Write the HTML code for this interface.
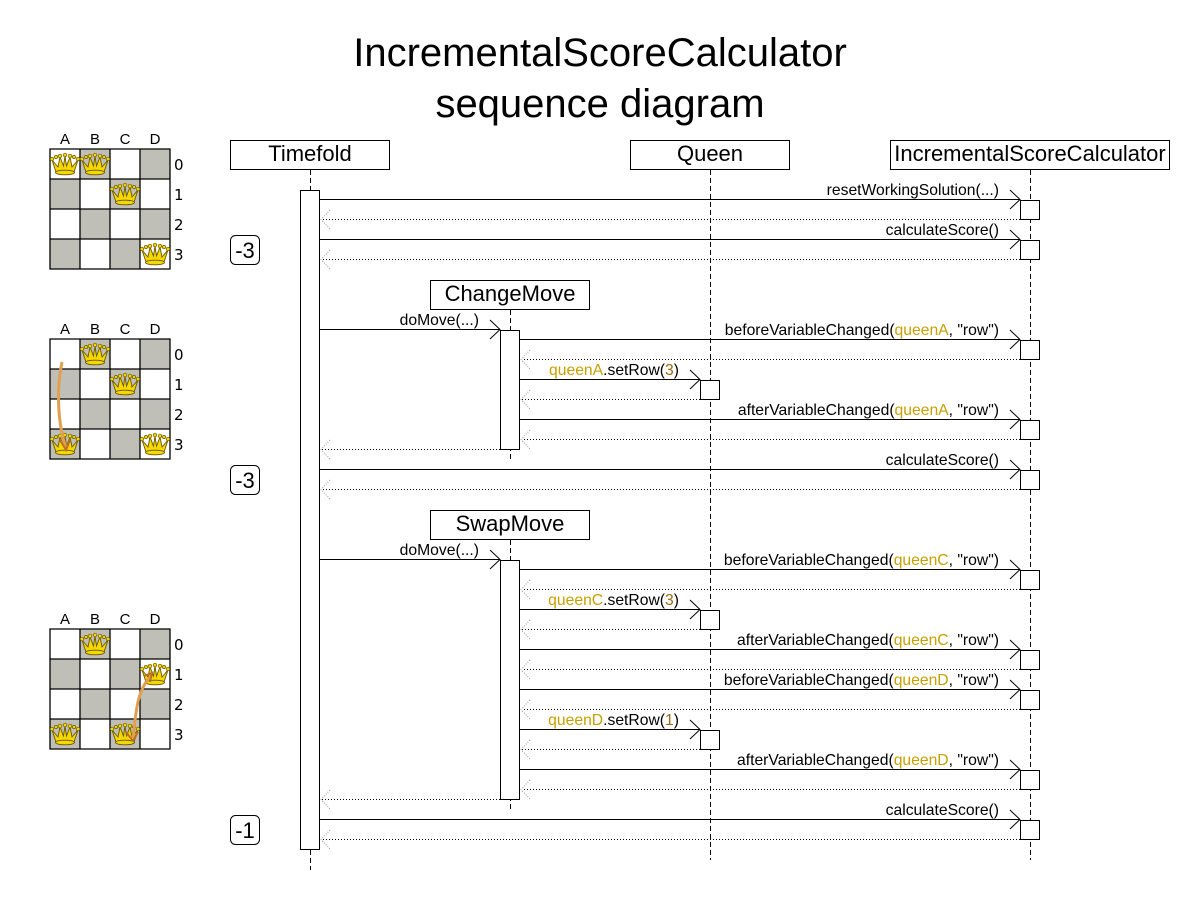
<!DOCTYPE html>
<html><head><meta charset="utf-8"><style>
html,body{margin:0;padding:0;background:#fff;width:1200px;height:900px;overflow:hidden}
svg{display:block;font-family:"Liberation Sans",sans-serif}
.t{font-size:15.7px;text-anchor:end;fill:#000}
.g{fill:#c8a000}
.b{fill:#9a6a10}
</style></head><body>
<svg width="1200" height="900" viewBox="0 0 1200 900" xmlns="http://www.w3.org/2000/svg">
<defs>
<symbol id="q" viewBox="0 0 30 30">
<path d="M2 11 L6 23 L24 23 L28 11 L22 18 L20 8 L16.5 17 L15 7 L13.5 17 L10 8 L8 18 Z" fill="#f5d800" stroke="#6a5600" stroke-width="0.9"/>
<ellipse cx="15" cy="23.5" rx="9.5" ry="2.3" fill="#f5d800" stroke="#6a5600" stroke-width="0.9"/>
<g fill="#f5d800" stroke="#6a5600" stroke-width="0.7">
<circle cx="2" cy="10" r="1.8"/><circle cx="10" cy="7" r="1.8"/><circle cx="15" cy="6" r="1.8"/>
<circle cx="20" cy="7" r="1.8"/><circle cx="28" cy="10" r="1.8"/><circle cx="6" cy="8" r="1.6"/><circle cx="24" cy="8" r="1.6"/>
</g>
</symbol>
<g id="board">
<rect x="0" y="0" width="120" height="120" fill="#fff"/>
<rect x="30" y="0" width="30" height="30" fill="#bfbfb8"/><rect x="90" y="0" width="30" height="30" fill="#bfbfb8"/>
<rect x="0" y="30" width="30" height="30" fill="#bfbfb8"/><rect x="60" y="30" width="30" height="30" fill="#bfbfb8"/>
<rect x="30" y="60" width="30" height="30" fill="#bfbfb8"/><rect x="90" y="60" width="30" height="30" fill="#bfbfb8"/>
<rect x="0" y="90" width="30" height="30" fill="#bfbfb8"/><rect x="60" y="90" width="30" height="30" fill="#bfbfb8"/>
<path d="M0 0H120V120H0Z M30 0V120 M60 0V120 M90 0V120 M0 30H120 M0 60H120 M0 90H120" fill="none" stroke="#000" stroke-width="1.3"/>
<g font-size="15" text-anchor="middle"><text x="15" y="-5">A</text><text x="45" y="-5">B</text><text x="75" y="-5">C</text><text x="105" y="-5">D</text></g>
<g font-size="15" font-family="DejaVu Sans, sans-serif"><text x="124" y="21">0</text><text x="124" y="51">1</text><text x="124" y="81">2</text><text x="124" y="111">3</text></g>
</g>
</defs>

<text x="600" y="66" font-size="40" text-anchor="middle">IncrementalScoreCalculator</text>
<text x="600" y="117" font-size="40" text-anchor="middle">sequence diagram</text>

<use href="#board" x="50" y="149"/>
<use href="#q" x="50" y="149" width="30" height="30"/><use href="#q" x="80" y="149" width="30" height="30"/>
<use href="#q" x="110" y="179" width="30" height="30"/><use href="#q" x="140" y="239" width="30" height="30"/>

<use href="#board" x="50" y="339"/>
<use href="#q" x="80" y="339" width="30" height="30"/><use href="#q" x="110" y="369" width="30" height="30"/>
<use href="#q" x="50" y="429" width="30" height="30"/><use href="#q" x="140" y="429" width="30" height="30"/>
<path d="M62 362 C56 390 58 425 66 448" fill="none" stroke="#e0a050" stroke-width="3"/>
<path d="M60 440 L66 450 L70 440" fill="none" stroke="#c07020" stroke-width="2"/>

<use href="#board" x="50" y="629"/>
<use href="#q" x="80" y="629" width="30" height="30"/><use href="#q" x="140" y="659" width="30" height="30"/>
<use href="#q" x="50" y="719" width="30" height="30"/><use href="#q" x="110" y="719" width="30" height="30"/>
<path d="M133 738 C136 715 136 690 152 675" fill="none" stroke="#e0a050" stroke-width="3"/>
<path d="M144 676 L152 673 L150 682" fill="none" stroke="#c07020" stroke-width="2"/>
<path d="M126 732 L133 741 L138 732" fill="none" stroke="#c07020" stroke-width="2"/>

<g stroke="#000" stroke-dasharray="5,3" stroke-width="1">
<line x1="310.5" y1="170" x2="310.5" y2="870"/>
<line x1="710.5" y1="170" x2="710.5" y2="860"/>
<line x1="1030.5" y1="170" x2="1030.5" y2="860"/>
<line x1="510.5" y1="310" x2="510.5" y2="460"/>
<line x1="510.5" y1="540" x2="510.5" y2="810"/>
</g>

<g fill="#fff" stroke="#000" stroke-width="1">
<rect x="230.5" y="140.5" width="159" height="29"/>
<rect x="630.5" y="140.5" width="159" height="29"/>
<rect x="890.5" y="140.5" width="279" height="29"/>
<rect x="430.5" y="280.5" width="159" height="29"/>
<rect x="430.5" y="510.5" width="159" height="29"/>
<rect x="300.5" y="190.5" width="19" height="659"/>
<rect x="500.5" y="330.5" width="19" height="119"/>
<rect x="500.5" y="560.5" width="19" height="239"/>
<rect x="1020.5" y="200.5" width="19" height="19"/>
<rect x="1020.5" y="240.5" width="19" height="19"/>
<rect x="1020.5" y="340.5" width="19" height="19"/>
<rect x="1020.5" y="420.5" width="19" height="19"/>
<rect x="1020.5" y="470.5" width="19" height="19"/>
<rect x="1020.5" y="570.5" width="19" height="19"/>
<rect x="1020.5" y="650.5" width="19" height="19"/>
<rect x="1020.5" y="690.5" width="19" height="19"/>
<rect x="1020.5" y="770.5" width="19" height="19"/>
<rect x="1020.5" y="820.5" width="19" height="19"/>
<rect x="700.5" y="380.5" width="19" height="19"/>
<rect x="700.5" y="610.5" width="19" height="19"/>
<rect x="700.5" y="730.5" width="19" height="19"/>
<rect x="230.5" y="235.5" width="29" height="29" rx="5"/>
<rect x="230.5" y="465.5" width="29" height="29" rx="5"/>
<rect x="230.5" y="815.5" width="29" height="29" rx="5"/>
</g>
<g font-size="22" text-anchor="middle">
<text x="310" y="161">Timefold</text>
<text x="710" y="161">Queen</text>
<text x="1030" y="161">IncrementalScoreCalculator</text>
<text x="510" y="301">ChangeMove</text>
<text x="510" y="531">SwapMove</text>
<text x="245" y="258">-3</text>
<text x="245" y="488">-3</text>
<text x="245" y="838">-1</text>
</g>

<g stroke="#000" stroke-width="1" fill="none">
<path d="M320 199.5H1020 M1010 190L1020 199.5L1010 209"/>
<path d="M320 239.5H1020 M1010 230L1020 239.5L1010 249"/>
<path d="M320 329.5H500 M490 320L500 329.5L490 339"/>
<path d="M520 339.5H1020 M1010 330L1020 339.5L1010 349"/>
<path d="M520 379.5H700 M690 370L700 379.5L690 389"/>
<path d="M520 419.5H1020 M1010 410L1020 419.5L1010 429"/>
<path d="M320 469.5H1020 M1010 460L1020 469.5L1010 479"/>
<path d="M320 559.5H500 M490 550L500 559.5L490 569"/>
<path d="M520 569.5H1020 M1010 560L1020 569.5L1010 579"/>
<path d="M520 609.5H700 M690 600L700 609.5L690 619"/>
<path d="M520 649.5H1020 M1010 640L1020 649.5L1010 659"/>
<path d="M520 689.5H1020 M1010 680L1020 689.5L1010 699"/>
<path d="M520 729.5H700 M690 720L700 729.5L690 739"/>
<path d="M520 769.5H1020 M1010 760L1020 769.5L1010 779"/>
<path d="M320 819.5H1020 M1010 810L1020 819.5L1010 829"/>
</g>
<g stroke="#000" stroke-width="1" stroke-dasharray="1,2" fill="none">
<path d="M1020 219.5H322"/><path d="M1020 259.5H322"/>
<path d="M1020 359.5H522"/><path d="M700 399.5H522"/><path d="M1020 439.5H522"/>
<path d="M500 449.5H322"/><path d="M1020 489.5H322"/>
<path d="M1020 589.5H522"/><path d="M700 629.5H522"/><path d="M1020 669.5H522"/>
<path d="M1020 709.5H522"/><path d="M700 749.5H522"/><path d="M1020 789.5H522"/>
<path d="M500 799.5H322"/><path d="M1020 839.5H322"/>
</g>
<g stroke="#999" stroke-width="1" stroke-dasharray="1,1.5" fill="none">
<path d="M330 210L321 219.5L330 229"/><path d="M330 250L321 259.5L330 269"/>
<path d="M530 350L521 359.5L530 369"/><path d="M530 390L521 399.5L530 409"/><path d="M530 430L521 439.5L530 449"/>
<path d="M330 440L321 449.5L330 459"/><path d="M330 480L321 489.5L330 499"/>
<path d="M530 580L521 589.5L530 599"/><path d="M530 620L521 629.5L530 639"/><path d="M530 660L521 669.5L530 679"/>
<path d="M530 700L521 709.5L530 719"/><path d="M530 740L521 749.5L530 759"/><path d="M530 780L521 789.5L530 799"/>
<path d="M330 790L321 799.5L330 809"/><path d="M330 830L321 839.5L330 849"/>
</g>

<text class="t" x="999" y="195">resetWorkingSolution(...)</text>
<text class="t" x="999" y="235">calculateScore()</text>
<text class="t" x="479" y="325">doMove(...)</text>
<text class="t" x="999" y="335">beforeVariableChanged(<tspan class="g">queenA</tspan>, "row")</text>
<text class="t" x="679" y="375"><tspan class="g">queenA</tspan>.setRow(<tspan class="b">3</tspan>)</text>
<text class="t" x="999" y="415">afterVariableChanged(<tspan class="g">queenA</tspan>, "row")</text>
<text class="t" x="999" y="465">calculateScore()</text>
<text class="t" x="479" y="555">doMove(...)</text>
<text class="t" x="999" y="565">beforeVariableChanged(<tspan class="g">queenC</tspan>, "row")</text>
<text class="t" x="679" y="605"><tspan class="g">queenC</tspan>.setRow(<tspan class="b">3</tspan>)</text>
<text class="t" x="999" y="645">afterVariableChanged(<tspan class="g">queenC</tspan>, "row")</text>
<text class="t" x="999" y="685">beforeVariableChanged(<tspan class="g">queenD</tspan>, "row")</text>
<text class="t" x="679" y="725"><tspan class="g">queenD</tspan>.setRow(<tspan class="b">1</tspan>)</text>
<text class="t" x="999" y="765">afterVariableChanged(<tspan class="g">queenD</tspan>, "row")</text>
<text class="t" x="999" y="815">calculateScore()</text>
</svg>
</body></html>
